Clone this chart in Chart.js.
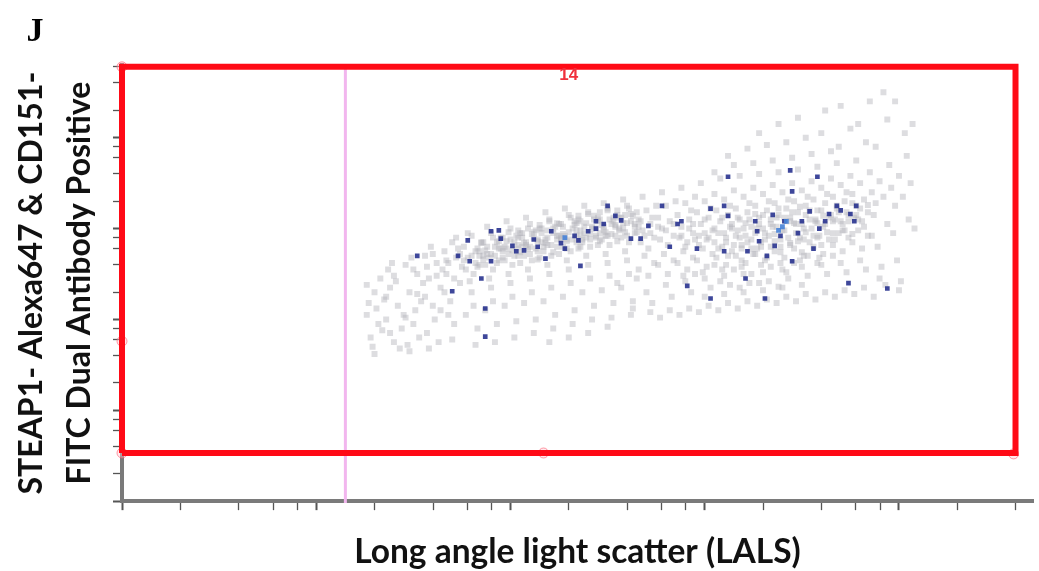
<!DOCTYPE html>
<html>
<head>
<meta charset="utf-8">
<script src="https://cdn.jsdelivr.net/npm/chart.js@4.4.1/dist/chart.umd.min.js"></script>
<style>
  html, body { margin: 0; padding: 0; background: #fff; }
  canvas { display: block; }
</style>
</head>
<body>
<canvas id="dotPlot" width="1039" height="571"></canvas>
<script>
// axes in decades (log10 of the signal), ticks at 1,2,4,6,8 x 10^n
const decadeSteps = [1, 2, 4, 6, 8];
const xTitle = 'Long angle light scatter (LALS)';
const yTitle = ['STEAP1- Alexa647 & CD151-', 'FITC Dual Antibody Positive'];

// gate and marker (decades)
const gateX = [0, 4.6];
const gateY = [0.53, 4.78];
const gateLabel = '14';
const gateHandles = [[0, 4.78], [0, 1.76], [0, 0.53], [2.17, 0.53], [4.59, 0.52]];
const markerX = 1.15;

// grey events, read strip by strip
const grayCells = [
  [1.26,2.05],[1.28,1.80],[1.30,2.30],[1.27,2.18],[1.32,1.95],[1.29,1.70],[1.33,2.45],[1.31,2.12],[1.34,1.88],[1.26,2.38],[1.35,2.22],[1.30,1.62],
  [1.36,2.00],[1.38,2.35],[1.40,1.75],[1.37,2.55],[1.42,2.15],[1.44,1.90],[1.39,2.62],[1.41,2.42],[1.43,1.68],[1.36,2.25],[1.45,2.05],[1.40,2.48],[1.38,1.85],
  [1.46,2.60],[1.48,2.30],[1.50,1.95],[1.47,1.72],[1.52,2.50],[1.54,2.20],[1.49,2.68],[1.51,2.10],[1.53,1.80],[1.55,2.40],[1.46,2.02],[1.50,2.55],[1.48,1.65],[1.52,2.28],
  [1.56,2.70],[1.58,2.45],[1.60,2.15],[1.57,1.85],[1.62,2.62],[1.64,2.35],[1.59,2.80],[1.61,2.00],[1.63,1.75],[1.65,2.55],[1.56,2.25],[1.60,2.72],[1.58,1.68],[1.62,2.48],[1.64,2.10],[1.57,2.58],
  [1.66,2.75],[1.68,2.62],[1.70,2.85],[1.67,2.50],[1.72,2.68],[1.74,2.40],[1.69,2.20],[1.71,1.95],[1.73,2.78],[1.75,2.58],[1.66,2.30],[1.70,1.78],[1.72,2.90],[1.68,2.05],[1.74,2.72],[1.67,2.65],[1.71,2.45],
  [1.76,2.80],[1.78,2.68],[1.80,2.92],[1.77,2.55],[1.82,2.75],[1.84,2.60],[1.79,2.42],[1.81,2.15],[1.83,1.90],[1.85,2.85],[1.76,2.65],[1.80,2.30],[1.82,1.72],[1.78,2.95],[1.84,2.70],[1.77,2.05],[1.81,2.50],[1.83,2.78],
  [1.86,2.85],[1.88,2.72],[1.90,2.95],[1.87,2.60],[1.92,2.80],[1.94,2.65],[1.89,2.45],[1.91,2.20],[1.93,1.95],[1.95,2.90],[1.86,2.70],[1.90,2.35],[1.92,1.75],[1.88,3.02],[1.94,2.78],[1.87,2.10],[1.91,2.55],[1.93,2.85],[1.89,2.68],
  [1.96,2.90],[1.98,2.78],[2.00,3.00],[1.97,2.65],[2.02,2.85],[2.04,2.70],[1.99,2.50],[2.01,2.25],[2.03,1.98],[2.05,2.95],[1.96,2.75],[2.00,2.40],[2.02,1.80],[1.98,3.08],[2.04,2.82],[1.97,2.15],[2.01,2.60],[2.03,2.92],[1.99,2.72],[2.05,2.62],
  [2.06,2.95],[2.08,2.82],[2.10,3.05],[2.07,2.70],[2.12,2.90],[2.14,2.75],[2.09,2.55],[2.11,2.30],[2.13,2.00],[2.15,3.00],[2.06,2.80],[2.10,2.45],[2.12,1.85],[2.08,3.12],[2.14,2.88],[2.07,2.18],[2.11,2.65],[2.13,2.98],[2.09,2.78],[2.15,2.68],
  [2.16,3.00],[2.18,2.88],[2.20,3.10],[2.17,2.75],[2.22,2.95],[2.24,2.80],[2.19,2.60],[2.21,2.35],[2.23,2.05],[2.25,3.05],[2.16,2.85],[2.20,2.50],[2.22,1.90],[2.18,3.18],[2.24,2.92],[2.17,2.20],[2.21,2.70],[2.23,3.02],[2.19,2.82],[2.25,2.72],[2.20,1.75],
  [2.26,3.05],[2.28,2.92],[2.30,3.15],[2.27,2.80],[2.32,3.00],[2.34,2.85],[2.29,2.65],[2.31,2.40],[2.33,2.10],[2.35,3.10],[2.26,2.90],[2.30,2.55],[2.32,1.95],[2.28,3.22],[2.34,2.98],[2.27,2.25],[2.31,2.75],[2.33,3.08],[2.29,2.88],[2.35,2.78],[2.30,1.80],
  [2.36,3.08],[2.38,2.95],[2.40,3.18],[2.37,2.85],[2.42,3.02],[2.44,2.90],[2.39,2.70],[2.41,2.45],[2.43,2.15],[2.45,3.12],[2.36,2.92],[2.40,2.60],[2.42,2.00],[2.38,3.25],[2.44,3.00],[2.37,2.30],[2.41,2.80],[2.43,3.10],[2.39,2.90],[2.45,2.82],[2.40,1.85],
  [2.46,3.10],[2.48,2.98],[2.50,3.22],[2.47,2.88],[2.52,3.05],[2.54,2.92],[2.49,2.72],[2.51,2.48],[2.53,2.18],[2.55,3.15],[2.46,2.95],[2.50,2.62],[2.52,2.02],[2.48,3.28],[2.54,3.02],[2.47,2.32],[2.51,2.82],[2.53,3.12],[2.49,2.92],[2.55,2.40],[2.50,1.92],
  [2.56,3.12],[2.58,3.00],[2.60,3.25],[2.57,2.90],[2.62,3.08],[2.64,2.95],[2.59,2.75],[2.61,2.50],[2.63,2.20],[2.65,3.18],[2.56,2.98],[2.60,2.65],[2.62,2.05],[2.58,3.32],[2.64,3.05],[2.57,2.35],[2.61,2.85],[2.63,2.12],[2.59,3.15],[2.65,2.45],
  [2.66,3.10],[2.68,2.98],[2.70,3.20],[2.67,2.85],[2.72,3.05],[2.74,2.90],[2.69,2.70],[2.71,2.48],[2.73,2.18],[2.75,3.25],[2.66,2.55],[2.70,2.30],[2.72,2.08],[2.68,3.35],[2.74,2.62],[2.71,2.78],
  [2.76,3.12],[2.78,3.00],[2.80,3.25],[2.77,2.88],[2.82,3.08],[2.84,2.92],[2.79,2.72],[2.81,2.50],[2.83,2.25],[2.85,3.30],[2.76,2.60],[2.80,2.38],[2.82,2.10],[2.78,3.40],[2.84,2.65],[2.81,2.82],[2.77,2.02],
  [2.86,3.15],[2.88,3.02],[2.90,3.28],[2.87,2.90],[2.92,3.10],[2.94,2.95],[2.89,2.75],[2.91,2.55],[2.93,2.30],[2.95,3.35],[2.86,2.62],[2.90,2.42],[2.92,2.12],[2.88,3.45],[2.94,2.68],[2.91,2.85],[2.87,2.05],[2.93,3.20],[2.89,2.48],
  [2.96,3.18],[2.98,3.05],[3.00,3.30],[2.97,2.92],[3.02,3.12],[3.04,2.98],[2.99,2.78],[3.01,2.58],[3.03,2.35],[3.05,3.38],[2.96,2.65],[3.00,2.45],[3.02,2.15],[2.98,3.50],[3.04,2.72],[3.01,2.88],[2.97,2.08],[3.03,3.22],[2.99,2.52],[3.05,3.62],[3.00,2.25],
  [3.06,3.20],[3.08,3.08],[3.10,3.32],[3.07,2.95],[3.12,3.15],[3.14,3.00],[3.09,2.80],[3.11,2.60],[3.13,2.38],[3.15,3.42],[3.06,2.68],[3.10,2.48],[3.12,2.18],[3.08,3.55],[3.14,2.75],[3.11,2.90],[3.07,2.10],[3.13,3.25],[3.09,2.55],[3.15,3.70],[3.10,2.28],[3.12,3.80],
  [3.16,3.22],[3.18,3.10],[3.20,3.35],[3.17,2.98],[3.22,3.18],[3.24,3.02],[3.19,2.82],[3.21,2.62],[3.23,2.40],[3.25,3.45],[3.16,2.70],[3.20,2.50],[3.22,2.20],[3.18,3.58],[3.24,2.78],[3.21,2.92],[3.17,2.12],[3.23,3.28],[3.19,2.58],[3.25,3.72],[3.20,2.30],[3.22,3.88],
  [3.26,3.25],[3.28,3.12],[3.30,3.38],[3.27,3.00],[3.32,3.20],[3.34,3.05],[3.29,2.85],[3.31,2.65],[3.33,2.42],[3.35,3.48],[3.26,2.72],[3.30,2.52],[3.32,2.22],[3.28,3.60],[3.34,2.80],[3.31,2.95],[3.27,2.15],[3.33,3.30],[3.29,2.60],[3.35,3.75],[3.30,2.32],[3.32,3.92],[3.28,4.05],
  [3.36,3.28],[3.38,3.15],[3.40,3.40],[3.37,3.02],[3.42,3.22],[3.44,3.08],[3.39,2.88],[3.41,2.68],[3.43,2.45],[3.45,3.50],[3.36,2.75],[3.40,2.55],[3.42,2.25],[3.38,3.62],[3.44,2.82],[3.41,2.98],[3.37,2.18],[3.43,3.32],[3.39,2.62],[3.45,3.78],[3.40,2.35],[3.42,3.95],[3.38,4.15],[3.44,3.12],
  [3.46,3.30],[3.48,3.18],[3.50,3.42],[3.47,3.05],[3.52,3.25],[3.54,3.10],[3.49,2.90],[3.51,2.70],[3.53,2.48],[3.55,3.52],[3.46,2.78],[3.50,2.58],[3.52,2.28],[3.48,3.65],[3.54,2.85],[3.51,3.00],[3.47,2.20],[3.53,3.35],[3.49,2.65],[3.55,3.82],[3.50,2.38],[3.52,4.00],[3.48,4.22],
  [3.56,3.32],[3.58,3.20],[3.60,3.45],[3.57,3.08],[3.62,3.28],[3.64,3.12],[3.59,2.92],[3.61,2.72],[3.63,2.50],[3.65,3.55],[3.56,2.80],[3.60,2.60],[3.62,2.30],[3.58,3.68],[3.64,2.88],[3.61,3.02],[3.57,2.22],[3.63,3.38],[3.59,2.68],[3.65,3.85],[3.60,4.05],[3.62,4.30],
  [3.66,3.35],[3.68,3.22],[3.70,3.48],[3.67,3.10],[3.72,3.30],[3.74,3.15],[3.69,2.95],[3.71,2.75],[3.73,2.52],[3.75,3.58],[3.66,2.82],[3.70,2.62],[3.72,2.32],[3.68,3.72],[3.74,2.90],[3.71,3.05],[3.67,2.25],[3.73,3.40],[3.69,3.90],[3.75,4.10],[3.70,4.35],
  [3.76,3.38],[3.78,3.25],[3.80,3.50],[3.77,3.12],[3.82,3.32],[3.84,3.18],[3.79,2.98],[3.81,2.78],[3.83,2.55],[3.85,3.62],[3.76,2.85],[3.80,2.65],[3.82,2.35],[3.78,3.75],[3.84,2.92],[3.81,3.08],[3.77,2.28],[3.83,3.95],[3.79,4.15],[3.85,4.40],
  [3.86,3.40],[3.88,3.28],[3.90,3.52],[3.87,3.15],[3.92,3.35],[3.94,3.05],[3.89,2.80],[3.91,2.58],[3.93,2.38],[3.95,3.70],[3.86,2.92],[3.90,2.45],[3.88,3.90],[3.94,4.20],[3.92,4.50],[3.87,2.25],
  [3.96,3.45],[3.98,3.25],[4.00,3.58],[3.97,2.95],[4.02,3.35],[4.04,3.80],[3.99,2.65],[4.01,2.42],[4.03,4.05],[3.98,4.40],[4.00,2.32],[4.05,3.10],
  [4.06,3.50],[4.08,3.00],[4.07,4.15]
];

// denser grey core of the two populations
const grayCore = [
  [1.80,2.70],[1.84,2.75],[1.88,2.80],[1.90,2.72],[1.94,2.86],[1.97,2.80],[2.00,2.88],[2.03,2.78],[2.06,2.90],[2.08,2.85],[2.11,2.94],[2.14,2.86],[2.16,2.95],[2.19,2.90],[2.22,3.00],
  [2.25,2.92],[2.27,3.02],[2.30,2.96],[2.33,3.04],[2.36,2.98],[2.39,3.06],[2.42,3.00],[2.45,3.08],[2.48,3.02],[2.51,3.10],[2.54,3.04],[2.57,3.12],[2.60,3.06],[2.63,3.14],[2.66,3.02],
  [1.82,2.62],[1.86,2.66],[1.92,2.70],[1.96,2.68],[2.01,2.76],[2.05,2.74],[2.10,2.80],[2.13,2.78],[2.18,2.84],[2.21,2.82],[2.26,2.88],[2.29,2.86],[2.34,2.92],[2.37,2.88],[2.41,2.94],
  [2.44,2.92],[2.49,2.96],[2.52,2.94],[2.56,3.00],[2.59,2.96],[2.64,3.02],
  [1.85,2.84],[1.91,2.90],[1.99,2.96],[2.04,2.98],[2.09,3.00],[2.15,3.04],[2.20,3.08],[2.24,3.06],[2.31,3.12],[2.35,3.14],[2.40,3.16],[2.46,3.18],[2.50,3.20],[2.55,3.20],[2.61,3.22],
  [3.10,2.95],[3.14,3.05],[3.18,2.90],[3.20,3.00],[3.23,3.10],[3.26,2.95],[3.28,3.05],[3.30,3.15],[3.33,2.92],[3.35,3.02],[3.37,3.12],[3.40,2.98],[3.42,3.08],[3.45,3.18],[3.47,2.95],
  [3.50,3.05],[3.52,3.15],[3.55,3.00],[3.57,3.10],[3.60,3.20],[3.62,3.05],[3.65,3.15],[3.68,3.25],[3.70,3.08],[3.73,3.18],[3.76,3.28],[3.78,3.15],[3.80,3.22],
  [3.15,2.82],[3.22,2.85],[3.29,2.80],[3.36,2.86],[3.44,2.84],[3.51,2.88],[3.58,2.90],[3.66,2.95],[3.72,2.98],
  [3.12,2.70],[3.19,2.65],[3.25,2.72],[3.32,2.68],[3.39,2.74],[3.46,2.62],[3.53,2.70],
  [3.05,2.85],[3.00,2.95],[2.95,2.88],[2.92,3.00],[2.88,2.92],[2.84,3.05],[2.80,2.98],[2.76,3.02],[2.72,2.95]
];

// extra events where the cloud is densest
const grayDense = [
  [1.83,2.58],[1.87,2.76],[1.93,2.62],[1.95,2.78],[1.98,2.86],[2.02,2.70],[2.04,2.90],[2.07,2.84],[2.10,2.72],[2.12,2.96],[2.14,2.66],[2.17,2.80],
  [2.19,2.98],[2.22,2.74],[2.24,2.88],[2.27,2.94],[2.29,2.78],[2.32,2.88],[2.34,3.06],[2.36,2.80],[2.38,3.02],[2.41,2.88],[2.43,3.14],[2.46,2.86],
  [2.47,3.04],[2.50,2.92],[2.53,3.08],[2.55,2.86],[2.58,3.06],[2.60,2.92],[2.62,3.16],[2.65,2.96],[2.67,3.08],[2.69,2.92],[2.73,3.12],
  [2.90,2.80],[2.94,3.05],[2.97,2.82],[3.00,3.10],[3.02,2.90],[3.05,3.00],[3.07,2.78],[3.09,3.12],[3.11,2.85],[3.13,3.02],[3.16,2.92],[3.17,3.12],
  [3.19,2.78],[3.21,3.06],[3.24,2.88],[3.26,3.16],[3.27,2.78],[3.30,3.00],[3.31,2.88],[3.34,3.10],[3.36,2.94],[3.38,3.22],[3.39,2.80],[3.41,3.12],
  [3.43,2.90],[3.46,3.06],[3.48,2.86],[3.49,3.24],[3.52,2.96],[3.54,3.20],[3.56,2.92],[3.58,3.06],[3.60,2.82],[3.61,3.14],[3.63,2.96],[3.66,3.08],
  [3.67,2.88],[3.69,3.18],[3.71,2.98],[3.74,3.08],[3.76,2.94],[3.79,3.10],[3.82,3.02],[3.84,3.26],
  [3.05,2.60],[3.15,2.55],[3.24,2.50],[3.34,2.58],[3.42,2.52],[3.50,2.74],[3.58,2.62],[3.66,2.70],[2.95,2.50],[3.08,2.42],[3.18,2.35],[3.28,2.40],[3.38,2.36]
];

// double positive events (dark blue)
const blueCells = [
  [1.52,2.70],[1.70,2.31],[1.87,2.12],[1.87,1.81],[1.78,2.87],[1.73,2.70],[1.79,2.64],[1.90,2.64],[1.85,2.45],
  [2.01,2.81],[2.03,2.75],[2.07,2.76],[2.14,2.80],[2.21,2.97],[2.18,2.67],[2.28,2.78],[2.33,2.92],[2.35,2.87],[2.40,2.97],[2.44,3.00],[2.44,3.08],
  [2.50,3.25],[2.54,3.14],[2.57,3.09],[2.62,2.89],[2.67,2.89],[2.71,3.03],[2.78,3.25],[2.82,2.80],[2.86,3.05],[2.36,2.59],[1.94,2.98],[1.95,2.89],[1.90,2.97],
  [3.12,3.57],[3.44,3.64],[3.45,3.41],[3.58,3.57],[3.10,3.25],[3.12,3.14],[3.26,3.08],[3.27,2.97],[3.41,3.08],[3.39,2.92],[3.48,2.95],[3.54,3.19],[3.59,3.00],
  [3.64,3.16],[3.68,3.25],[3.75,3.16],[3.77,3.08],[3.78,3.25],[3.45,2.64],[3.32,2.70],[3.22,2.75],[3.10,2.75],[2.96,2.78],[2.91,2.37],[3.03,2.23],[3.21,2.45],
  [3.31,2.23],[3.74,2.40],[3.94,2.34],[2.88,3.08],[3.28,2.86],[3.36,2.81],[3.03,3.22],
  [2.12,2.88],[2.26,2.84],[2.48,3.05],[3.35,3.15],[3.50,3.08],[3.62,3.08],[3.70,3.20],[3.56,2.78]
];

// lighter blue cluster centre
const lightBlueCells = [[3.40,3.02],[3.42,3.08],[3.38,2.98],[2.28,2.90]];

function enPoints(liste) {
  return liste.map(function (p) { return { x: p[0], y: p[1] }; });
}

function decadeTicks(axis) {
  const ticks = [];
  for (let d = 0; d <= 4; d++) {
    decadeSteps.forEach(function (m) {
      const v = d + Math.log10(m);
      if (v <= axis.max + 1e-6) ticks.push({ value: v, major: m === 1 });
    });
  }
  axis.ticks = ticks;
}

const gatePath = [
  { x: gateX[0], y: gateY[0] }, { x: gateX[0], y: gateY[1] },
  { x: gateX[1], y: gateY[1] }, { x: gateX[1], y: gateY[0] },
  { x: gateX[0], y: gateY[0] }
];

// gate label and panel letter
const annotations = {
  id: 'annotations',
  afterDraw(chart) {
    const c = chart.ctx;
    const x = chart.scales.x;
    const y = chart.scales.y;
    c.save();
    c.fillStyle = '#f0303c';
    c.font = 'bold 17px "Liberation Sans"';
    c.textAlign = 'center';
    c.textBaseline = 'middle';
    c.fillText(gateLabel, x.getPixelForValue(2.3), y.getPixelForValue(gateY[1]) + 8);
    c.fillStyle = '#000';
    c.font = 'bold 34px "Liberation Serif"';
    c.fillText('J', 35, 32);
    c.restore();
  }
};

const axisFont = { family: 'Lato', weight: 'bold' };

new Chart(document.getElementById('dotPlot'), {
  type: 'scatter',
  data: {
    datasets: [
      {
        type: 'line',
        data: gatePath,
        borderColor: '#ff0a16',
        borderWidth: 6,
        borderJoinStyle: 'miter',
        pointRadius: 0,
        fill: false,
        tension: 0,
        clip: false
      },
      {
        data: enPoints(gateHandles),
        pointStyle: 'circle',
        pointRadius: 5,
        borderWidth: 1,
        borderColor: 'rgba(255,90,110,0.6)',
        backgroundColor: 'rgba(255,200,210,0.4)',
        clip: false
      },
      {
        type: 'line',
        data: [{ x: markerX, y: gateY[1] }, { x: markerX, y: -0.02 }],
        borderColor: '#f2b6ee',
        borderWidth: 3,
        pointRadius: 0,
        fill: false,
        clip: false
      },
      {
        data: enPoints(lightBlueCells),
        pointStyle: 'rect',
        pointRadius: 3.4,
        borderWidth: 0,
        backgroundColor: 'rgba(70,130,215,0.9)'
      },
      {
        data: enPoints(blueCells),
        pointStyle: 'rect',
        pointRadius: 3.3,
        borderWidth: 0,
        backgroundColor: 'rgba(35,45,140,0.88)'
      },
      {
        data: enPoints(grayCells.concat(grayCore, grayDense)),
        pointStyle: 'rect',
        pointRadius: 4.2,
        borderWidth: 0,
        backgroundColor: 'rgba(180,180,186,0.45)'
      }
    ]
  },
  options: {
    responsive: false,
    animation: false,
    layout: { padding: { top: 65, left: 0, right: 2.5, bottom: 0 } },
    plugins: { legend: { display: false }, tooltip: { enabled: false } },
    scales: {
      x: {
        type: 'linear',
        min: 0,
        max: 4.69,
        afterBuildTicks: decadeTicks,
        ticks: { display: false },
        grid: {
          drawOnChartArea: false,
          drawTicks: true,
          tickLength: 9,
          tickColor: '#555',
          tickWidth: function (c) { return c.tick && c.tick.major ? 2 : 1.3; }
        },
        border: { display: true, color: '#7a7a7a', width: 4 },
        title: {
          display: true,
          text: xTitle,
          color: '#111',
          font: Object.assign({ size: 33.5, lineHeight: 1.1 }, axisFont),
          padding: { top: 24, bottom: 0 }
        }
      },
      y: {
        type: 'linear',
        min: 0,
        max: 4.8,
        afterBuildTicks: decadeTicks,
        ticks: { display: false },
        grid: {
          drawOnChartArea: false,
          drawTicks: true,
          tickLength: 9,
          tickColor: '#555',
          tickWidth: function (c) { return c.tick && c.tick.major ? 2 : 1.3; }
        },
        border: { display: true, color: '#7a7a7a', width: 4 },
        title: {
          display: true,
          text: yTitle,
          color: '#111',
          font: Object.assign({ size: 32, lineHeight: 1.5 }, axisFont),
          padding: { top: 8, bottom: 9 }
        }
      }
    }
  },
  plugins: [annotations]
});
</script>
</body>
</html>
